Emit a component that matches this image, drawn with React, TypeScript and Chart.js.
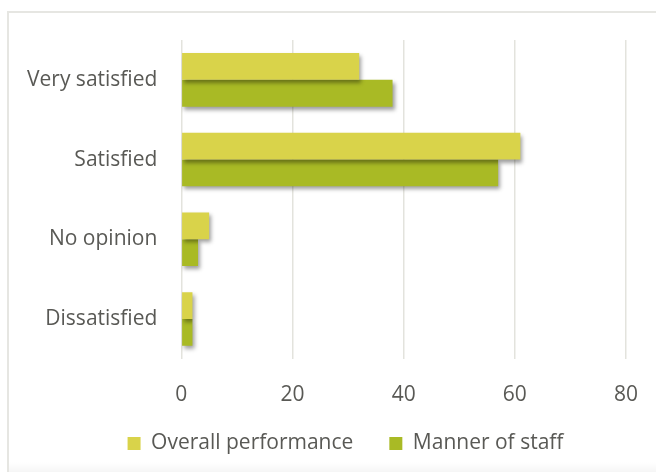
import React, { useEffect, useRef } from "react";
import { Chart, registerables } from "chart.js";

Chart.register(...registerables);

const categories = ["Very satisfied", "Satisfied", "No opinion", "Dissatisfied"];
const seriesNames = ["Overall performance", "Manner of staff"];
const overallPerformance = [32, 61, 5, 2];
const mannerOfStaff = [38, 57, 3, 2];
const xTicks = [0, 20, 40, 60, 80];

const TEXT = "#595955";
const FONT = "'Open Sans', 'DejaVu Sans', sans-serif";

const shadowPlugin = {
  id: "barShadow",
  beforeDatasetsDraw(chart: any) {
    const ctx = chart.ctx;
    ctx.save();
    ctx.shadowColor = "rgba(0,0,0,0.38)";
    ctx.shadowBlur = 4;
    ctx.shadowOffsetX = 2;
    ctx.shadowOffsetY = 3;
  },
  afterDatasetsDraw(chart: any) {
    chart.ctx.restore();
  },
};

const legendShift = {
  id: "legendShift",
  afterLayout(chart: any) {
    const lg = chart.legend;
    if (!lg) return;
    const dx = 26;
    const dy = -29;
    lg.left += dx;
    lg.right += dx;
    lg.top += dy;
    lg.bottom += dy;
  },
};

export default function App() {
  const ref = useRef<HTMLCanvasElement>(null);

  useEffect(() => {
    if (!ref.current) return;
    const chart = new Chart(ref.current, {
      type: "bar",
      data: {
        labels: categories,
        datasets: [
          {
            label: seriesNames[0],
            data: overallPerformance,
            backgroundColor: "#D9D34A",
            categoryPercentage: 0.672,
            barPercentage: 1,
          },
          {
            label: seriesNames[1],
            data: mannerOfStaff,
            backgroundColor: "#A9BA25",
            categoryPercentage: 0.672,
            barPercentage: 1,
          },
        ],
      },
      options: {
        indexAxis: "y",
        responsive: false,
        animation: false,
        layout: { padding: { left: 3, right: 20, top: 40, bottom: -21 } },
        scales: {
          x: {
            min: xTicks[0],
            max: xTicks[xTicks.length - 1],
            ticks: {
              stepSize: xTicks[1] - xTicks[0],
              color: TEXT,
              font: { family: FONT, size: 21 },
              padding: 18,
            },
            grid: {
              color: "#e3e3dd",
              lineWidth: 1.5,
              drawTicks: true,
              tickLength: 6,
              tickColor: "rgba(0,0,0,0)",
            },
            border: { display: false },
          },
          y: {
            ticks: {
              color: TEXT,
              font: { family: FONT, size: 21 },
              padding: 24,
            },
            grid: { display: false, drawTicks: false },
            border: { display: false },
          },
        },
        plugins: {
          legend: {
            position: "bottom",
            labels: {
              boxWidth: 13,
              boxHeight: 13,
              padding: 36,
              color: TEXT,
              font: { family: FONT, size: 21 },
            },
          },
          tooltip: { enabled: false },
        },
      },
      plugins: [shadowPlugin, legendShift],
    });
    return () => chart.destroy();
  }, []);

  return (
    <div
      style={{
        position: "fixed",
        left: 0,
        top: 0,
        width: 656,
        height: 472,
        overflow: "hidden",
        background: "#ffffff",
      }}
    >
      <div
        style={{
          position: "absolute",
          left: 7,
          top: 11,
          width: 720,
          height: 600,
          border: "2px solid #e6e6e2",
          boxSizing: "border-box",
        }}
      />
      <div
        style={{
          position: "absolute",
          left: 9,
          right: 0,
          bottom: 0,
          height: 10,
          background: "linear-gradient(to bottom, rgba(0,0,0,0), rgba(0,0,0,0.04))",
        }}
      />
      <canvas
        ref={ref}
        width={656}
        height={472}
        style={{ position: "absolute", left: 0, top: 0, width: 656, height: 472 }}
      />
    </div>
  );
}
